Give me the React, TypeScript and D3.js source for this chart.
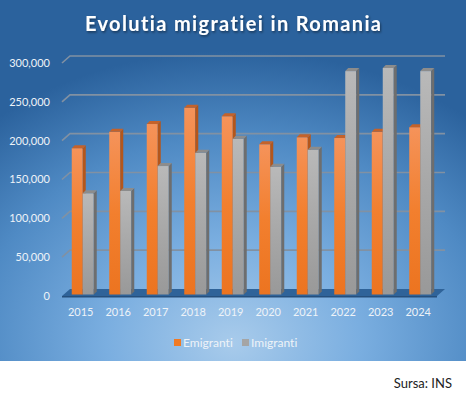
import React from 'react';
import * as d3 from 'd3';

const years = ['2015', '2016', '2017', '2018', '2019', '2020', '2021', '2022', '2023', '2024'];
const emigranti = [188000, 209000, 219000, 240000, 229000, 193000, 202000, 201000, 209000, 215000];
const imigranti = [130000, 133000, 165000, 182000, 200000, 164000, 186000, 287000, 291000, 287000];
const yTicks = [0, 50000, 100000, 150000, 200000, 250000, 300000];

const W = 466;
const H = 396;
const FONT = 'Lato, "Open Sans", sans-serif';

// 3D offsets (back wall vs front edge)
const DEPTH_X = 8;
const DEPTH_Y = -7;
const BAR_DX = 3;
const BAR_DY = -3;

const App: React.FC = () => {
  const x = d3.scaleBand<string>().domain(years).range([62, 437]);
  const yFront = d3.scaleLinear().domain([0, 300000]).range([296, 63]);
  const yBack = d3.scaleLinear().domain([0, 300000]).range([296 + DEPTH_Y, 63 + DEPTH_Y]);
  const yBar = d3.scaleLinear().domain([0, 300000]).range([294.5, 61]);
  const barW = 11;

  const box = (x0: number, yTop: number, key: string, front: string, side: string, top: string) => {
    const x1 = x0 + barW;
    const y0 = yBar(0);
    return (
      <g key={key}>
        <rect x={x0} y={yTop} width={barW} height={y0 - yTop} fill={front} />
        <polygon
          points={`${x1},${yTop} ${x1 + BAR_DX},${yTop + BAR_DY} ${x1 + BAR_DX},${y0 + BAR_DY} ${x1},${y0}`}
          fill={side}
        />
        <polygon
          points={`${x0},${yTop} ${x1},${yTop} ${x1 + BAR_DX},${yTop + BAR_DY} ${x0 + BAR_DX},${yTop + BAR_DY}`}
          fill={top}
        />
      </g>
    );
  };

  const floorFront = yFront(0);
  const floorBack = yBack(0);
  const textStyle = { fontVariantLigatures: 'none' as const };

  return (
    <div style={{ position: 'absolute', left: 0, top: 0, width: W, height: H, background: '#fff' }}>
      <svg width={W} height={H} style={{ display: 'block' }}>
        <defs>
          <radialGradient id="bg" cx="0.5" cy="0.92" r="0.78" fx="0.5" fy="0.95">
            <stop offset="0" stopColor="#a8cbeb" />
            <stop offset="0.35" stopColor="#7aaee0" />
            <stop offset="0.7" stopColor="#4f8ac4" />
            <stop offset="1" stopColor="#2b629d" />
          </radialGradient>
          <linearGradient id="orangeFront" x1="0" y1="0" x2="0" y2="1">
            <stop offset="0" stopColor="#f5935a" />
            <stop offset="0.5" stopColor="#f27f2e" />
            <stop offset="1" stopColor="#ec7420" />
          </linearGradient>
          <linearGradient id="greyFront" x1="0" y1="0" x2="0" y2="1">
            <stop offset="0" stopColor="#b9b9b9" />
            <stop offset="0.5" stopColor="#a8a8a8" />
            <stop offset="1" stopColor="#999999" />
          </linearGradient>
          <filter id="titleShadow" x="-10%" y="-30%" width="120%" height="160%">
            <feDropShadow dx="1" dy="1.5" stdDeviation="1" floodColor="#000" floodOpacity="0.45" />
          </filter>
        </defs>

        <rect x={0} y={0} width={W} height={361} fill="url(#bg)" />

        <text
          x={W / 2}
          y={31}
          textAnchor="middle"
          fill="#ffffff"
          fontFamily={FONT}
          fontWeight="bold"
          fontSize={20}
          textLength={296}
          lengthAdjust="spacing"
          filter="url(#titleShadow)"
          style={textStyle}
        >
          Evolutia migratiei in Romania
        </text>

        {/* gridlines on back wall with diagonal side wall edge */}
        {yTicks.slice(1).map((t) => (
          <polyline
            key={t}
            points={`62,${yFront(t)} ${62 + DEPTH_X},${yBack(t)} 445,${yBack(t)}`}
            fill="none"
            stroke="#8191a3"
            strokeWidth={1.6}
          />
        ))}

        {/* floor */}
        <polygon
          points={`62,${floorFront} ${62 + DEPTH_X},${floorBack} 445,${floorBack} 437,${floorFront}`}
          fill="#2f6399"
        />
        <polygon
          points={`62,${floorFront} 437,${floorFront} 437,${floorFront + 1.5} 62,${floorFront + 1.5}`}
          fill="#254f7c"
        />

        {/* bars */}
        {years.map((yr, i) => {
          const c = (x(yr) as number) + x.bandwidth() / 2 + 2;
          return (
            <g key={yr}>
              {box(c - barW, yBar(emigranti[i]), 'e', 'url(#orangeFront)', '#b4561b', '#c4622a')}
              {box(c, yBar(imigranti[i]), 'i', 'url(#greyFront)', '#6e6e6e', '#8c8c8c')}
            </g>
          );
        })}

        {/* y axis labels */}
        {yTicks.map((t) => (
          <text
            key={t}
            x={50}
            y={yFront(t)}
            dy="0.35em"
            textAnchor="end"
            fill="#eef3f8"
            fontFamily={FONT}
            fontSize={11}
          >
            {d3.format(',')(t)}
          </text>
        ))}

        {/* x axis labels */}
        {years.map((yr) => (
          <text
            key={yr}
            x={(x(yr) as number) + x.bandwidth() / 2}
            y={312}
            dy="0.35em"
            textAnchor="middle"
            fill="#eef3f8"
            fontFamily={FONT}
            fontSize={11}
          >
            {yr}
          </text>
        ))}

        {/* legend */}
        <rect x={174} y={339} width={7} height={7} fill="#f07a24" />
        <text x={183} y={342.5} dy="0.35em" fill="#eef3f8" fontFamily={FONT} fontSize={12} style={textStyle}>
          Emigranti
        </text>
        <rect x={242} y={339} width={7} height={7} fill="#a5a5a5" />
        <text x={251} y={342.5} dy="0.35em" fill="#eef3f8" fontFamily={FONT} fontSize={12} style={textStyle}>
          Imigranti
        </text>

        <text x={452} y={388} textAnchor="end" fill="#222" fontFamily={FONT} fontSize={13}>
          Sursa: INS
        </text>
      </svg>
    </div>
  );
};

export default App;
